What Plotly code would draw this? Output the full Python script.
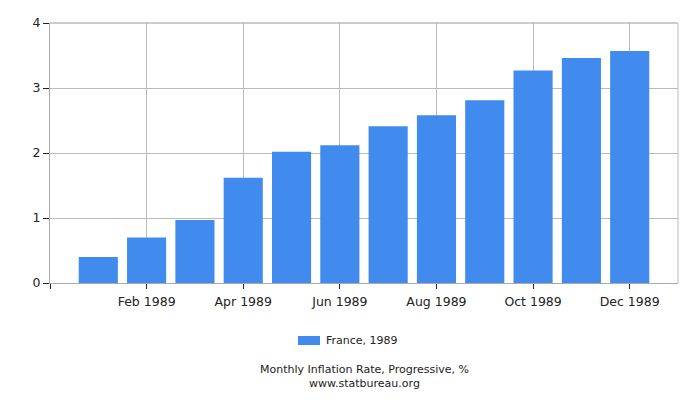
import plotly.graph_objects as go

months = ["Jan 1989", "Feb 1989", "Mar 1989", "Apr 1989", "May 1989", "Jun 1989",
          "Jul 1989", "Aug 1989", "Sep 1989", "Oct 1989", "Nov 1989", "Dec 1989"]
values = [0.40, 0.70, 0.97, 1.62, 2.02, 2.12, 2.41, 2.58, 2.81, 3.27, 3.46, 3.57]
series_name = "France, 1989"
tick_idx = [-1, 1, 3, 5, 7, 9, 11]
tick_text = ["", "Feb 1989", "Apr 1989", "Jun 1989", "Aug 1989", "Oct 1989", "Dec 1989"]
y_ticks = [0, 1, 2, 3, 4]
bar_color = "#428BEE"

x_idx = list(range(len(months)))

fig = go.Figure()
fig.add_trace(go.Bar(
    x=x_idx, y=values, name=series_name, width=0.81,
    marker=dict(color=bar_color, line=dict(width=0)),
    hovertext=months, showlegend=False,
))

font = "DejaVu Sans, Verdana, sans-serif"
fig.update_layout(
    width=700, height=400,
    margin=dict(l=42, r=30, t=15, b=125, pad=0, autoexpand=False),
    paper_bgcolor="white", plot_bgcolor="white",
    font=dict(family=font, size=13, color="#222"),
    showlegend=False,
    xaxis=dict(range=[-1, 12], tickmode="array", tickvals=tick_idx, ticktext=tick_text,
               showgrid=True, gridcolor="#bbbbbb", gridwidth=1,
               ticks="outside", ticklen=5, tickcolor="#222",
               showline=True, linecolor="#aaaaaa", linewidth=1, mirror=False,
               zeroline=False, automargin=False, tickfont=dict(size=12.5),
               ticklabelstandoff=2),
    yaxis=dict(range=[0, 4], tickmode="array", tickvals=y_ticks,
               showgrid=True, gridcolor="#bbbbbb", gridwidth=1,
               ticks="outside", ticklen=6, tickcolor="#222",
               showline=True, linecolor="#aaaaaa", linewidth=1,
               zeroline=False, automargin=False, tickfont=dict(size=12.5)),
    annotations=[
        dict(text=series_name, x=0.4363, y=-0.221, xref="paper", yref="paper",
             showarrow=False, xanchor="left", yanchor="middle",
             font=dict(size=11, color="#222")),
        dict(text="Monthly Inflation Rate, Progressive, %<br>www.statbureau.org",
             x=0.5, y=-0.358, xref="paper", yref="paper", showarrow=False,
             yanchor="middle", font=dict(size=11, color="#222")),
    ],
    shapes=[
        dict(type="line", xref="paper", yref="paper", x0=0, x1=1, y0=1, y1=1,
             line=dict(color="#999999", width=1)),
        dict(type="line", xref="paper", yref="paper", x0=1, x1=1, y0=0, y1=1,
             line=dict(color="#bbbbbb", width=1)),
        dict(type="rect", xref="paper", yref="paper", x0=0.3949, x1=0.4299,
             y0=-0.2385, y1=-0.2038, fillcolor=bar_color, line=dict(width=0)),
    ],
)

fig.write_html("out.html")
